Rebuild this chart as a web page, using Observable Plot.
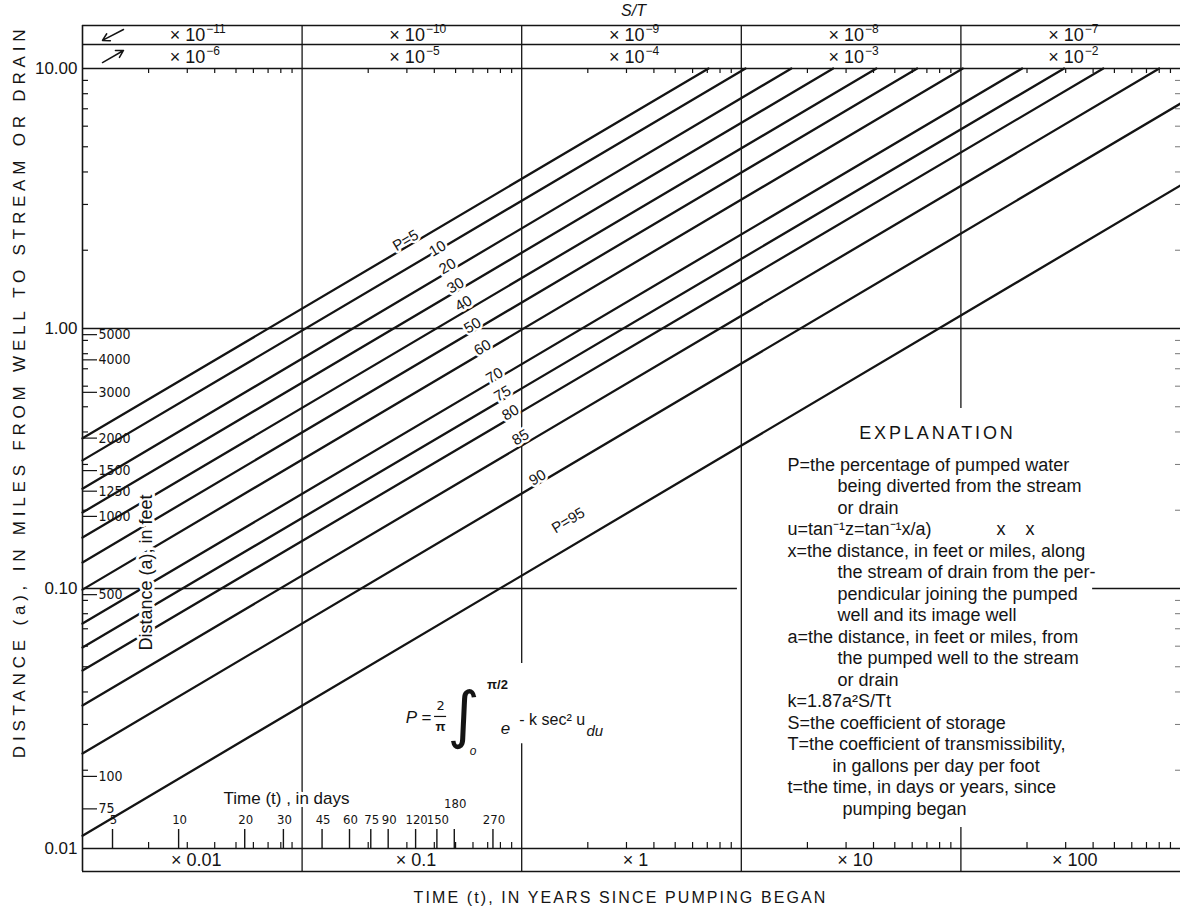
<!DOCTYPE html>
<html>
<head>
<meta charset="utf-8">
<script src="https://cdn.jsdelivr.net/npm/d3@7"></script>
<script src="https://cdn.jsdelivr.net/npm/@observablehq/plot@0.6"></script>
<style>
  html, body { margin: 0; padding: 0; background: #fff; }
</style>
</head>
<body>
<div id="chart"></div>
<script>
// ---- Curves: percentage P (start at left edge, end at top / right edge)
const pValues   = [5, 10, 20, 30, 40, 50, 60, 70, 75, 80, 85, 90, 95];
const pLabels   = ["P=5", "10", "20", "30", "40", "50", "60", "70", "75", "80", "85", "90", "P=95"];
const startYears = [0.01, 0.01, 0.01, 0.01, 0.01, 0.01, 0.01, 0.01, 0.01, 0.01, 0.01, 0.01, 0.01];
const startMiles = [0.378, 0.311, 0.242, 0.196, 0.157, 0.126, 0.099, 0.0733, 0.0593, 0.0484, 0.0355, 0.0232, 0.0112];
const endYears   = [7.09, 10.45, 16.9, 26.2, 41.2, 63.2, 102, 190, 295, 445, 800, 1000, 1000];
const endMiles   = [10, 10, 10, 10, 10, 10, 10, 10, 10, 10, 10, 7.33, 3.55];
const labelYears = [0.296, 0.414, 0.459, 0.500, 0.543, 0.597, 0.663, 0.752, 0.818, 0.889, 0.987, 1.18, 1.63];
const labelMiles = [2.18, 2.03, 1.732, 1.463, 1.248, 1.027, 0.845, 0.659, 0.562, 0.475, 0.381, 0.267, 0.1826];

// ---- Axes
const yTicks = [0.01, 0.1, 1, 10];
const yTickLabels = ["0.01", "0.10", "1.00", "10.00"];
const decadeStarts = [0.01, 0.1, 1, 10, 100];
const decadeLines = [0.1, 1, 10, 100];
const minorSteps = [2, 3, 4, 5, 6, 7, 8, 9];
const milesDecades = [0.01, 0.1, 1];
const yearBandLabels = ["× 0.01", "× 0.1", "× 1", "× 10", "× 100"];
const stBase = "× 10";
const stUpperExp = ["−11", "−10", "−9", "−8", "−7"];
const stLowerExp = ["−6", "−5", "−4", "−3", "−2"];
const feetTicks = [5000, 4000, 3000, 2000, 1500, 1250, 1000, 500, 100, 75];
const feetPerMile = 5280;
const dayTicks = [5, 10, 20, 30, 45, 60, 75, 90, 120, 150, 180, 270];
const dayRaised = [180];
const daysPerYear = 365;

// ---- Grid segments (gaps where the reference leaves room for text)
const hGrid = [
  {a: 1, t1: 0.01, t2: 1000},
  {a: 0.1, t1: 0.01, t2: 9.6},
  {a: 0.1, t1: 398, t2: 1000}
];
const vGrid = [
  {t: 0.1, a1: 10, a2: 0.01},
  {t: 1, a1: 10, a2: 0.0515},
  {t: 1, a1: 0.0253, a2: 0.01},
  {t: 10, a1: 10, a2: 0.01},
  {t: 100, a1: 10, a2: 0.492},
  {t: 100, a1: 0.01205, a2: 0.01}
];

// ---- S/T arrows in the top band (years, miles-scale positions)
const bandArrows = [
  {x1: 0.01537, y1: 14.13, x2: 0.01233, y2: 12.82},
  {x1: 0.01233, y1: 10.54, x2: 0.01537, y2: 11.73}
];

// ---- Explanation text
const NB = (n) => "\u00a0".repeat(n);
const explanationTitle = "EXPLANATION";
const explanationLines = [
  "P=the percentage of pumped water",
  NB(10) + "being diverted from the stream",
  NB(10) + "or drain",
  "u=tan⁻¹z=tan⁻¹x/a)" + NB(13) + "x" + NB(4) + "x",
  "x=the distance, in feet or miles, along",
  NB(10) + "the stream of drain from the per-",
  NB(10) + "pendicular joining the pumped",
  NB(10) + "well and its image well",
  "a=the distance, in feet or miles, from",
  NB(10) + "the pumped well to the stream",
  NB(10) + "or drain",
  "k=1.87a²S/Tt",
  "S=the coefficient of storage",
  "T=the coefficient of transmissibility,",
  NB(9) + "in gallons per day per foot",
  "t=the time, in days or years, since",
  NB(11) + "pumping began"
];
const explanationAnchor = {t: 16.23, a: 0.3247};
const explanationTitleAnchor = {t: 78.2, a: 0.3946};

// ---- Formula pieces (positions in years / miles)
const formulaMid = [
  {text: "P =", t: 0.339, a: 0.0319, size: 17, kind: "italic"},
  {text: "2", t: 0.427, a: 0.0355, size: 13, kind: "normal"},
  {text: "π", t: 0.427, a: 0.0293, size: 13, kind: "bold"},
  {text: "∫", t: 0.543, a: 0.0322, size: 62, kind: "normal"},
  {text: "o", t: 0.60, a: 0.0236, size: 12, kind: "italic"},
  {text: "π/2", t: 0.776, a: 0.0427, size: 13, kind: "bold"},
  {text: "e", t: 0.8435, a: 0.0289, size: 17, kind: "italic"}
];
const formulaStart = [
  {text: "- k sec² u", t: 0.975, a: 0.0313, size: 16, kind: "normal"},
  {text: "du", t: 1.973, a: 0.0282, size: 15, kind: "italic"}
];
const fractionBar = [{a: 0.0322, t1: 0.401, t2: 0.455}];

// ---- Other labels
const yTitle = "DISTANCE (a), IN MILES FROM WELL TO STREAM OR DRAIN";
const yTitlePos = {t: 0.00517, a: 0.5725};
const xTitle = "TIME (t), IN YEARS SINCE PUMPING BEGAN";
const xTitlePos = {t: 2.818, a: 0.00648};
const daysTitle = "Time (t) , in days";
const daysTitlePos = {t: 0.0849, a: 0.01557};
const feetTitle = "Distance (a), in feet";
const feetTitlePos = {t: 0.01956, a: 0.1152};
const stTitle = "S/T";
const stTitlePos = {t: 3.23, a: 10};

// ---- Build tables
const lineData = pValues.flatMap((p, i) => [
  {P: p, t: startYears[i], a: startMiles[i]},
  {P: p, t: endYears[i], a: endMiles[i]}
]);
const labelData = pValues.map((p, i) => ({P: p, t: labelYears[i], a: labelMiles[i], label: pLabels[i]}));
const minorYears = decadeStarts.flatMap((d) => minorSteps.map((k) => d * k));
const minorMiles = milesDecades.flatMap((d) => minorSteps.map((k) => d * k));
const bands = decadeStarts.map((d, i) => ({t: d * Math.sqrt(10), yr: yearBandLabels[i], up: stUpperExp[i], low: stLowerExp[i]}));
const dayData = dayTicks.map((d) => ({d, t: d / daysPerYear, raised: dayRaised.includes(d)}));
const feetData = feetTicks.map((f) => ({f, a: f / feetPerMile}));

const INK = "#141414";
const NARROW = "'Liberation Sans Narrow', 'Arial Narrow', 'DejaVu Sans Condensed', sans-serif";
const SANS = "'Liberation Sans', Arial, Helvetica, sans-serif";
const SYM = "'DejaVu Sans', sans-serif";

const plot = Plot.plot({
  width: 1180,
  height: 911,
  marginLeft: 82,
  marginRight: 0,
  marginTop: 68,
  marginBottom: 63,
  x: {type: "log", domain: [0.01, 1000], axis: null},
  y: {type: "log", domain: [0.01, 10], axis: null},
  style: {fontFamily: SANS, color: INK, background: "#fff", overflow: "visible"},
  marks: [
    // frame + bands
    Plot.ruleY([10, 0.01], {stroke: INK, strokeWidth: 1.5}),
    Plot.ruleY([10], {dy: -24, stroke: INK, strokeWidth: 1.4}),
    Plot.ruleY([10], {dy: -43, stroke: INK, strokeWidth: 1.5}),
    Plot.ruleY([0.01], {dy: 23, stroke: INK, strokeWidth: 1.5}),
    Plot.ruleX([0.01], {y1: 10, y2: 0.01, insetTop: -43, insetBottom: -23, stroke: INK, strokeWidth: 1.6}),
    Plot.ruleX(decadeLines, {y1: 10, y2: 10, insetTop: -43, stroke: INK, strokeWidth: 1.3}),
    Plot.ruleX(decadeLines, {y1: 0.01, y2: 0.01, insetBottom: -23, stroke: INK, strokeWidth: 1.3}),
    // grid
    Plot.ruleY(hGrid, {y: "a", x1: "t1", x2: "t2", stroke: INK, strokeWidth: 1.3}),
    Plot.ruleX(vGrid, {x: "t", y1: "a1", y2: "a2", stroke: INK, strokeWidth: 1.3}),
    // ticks
    Plot.ruleX(minorYears, {y1: 10, y2: 10, insetBottom: -5, stroke: INK, strokeWidth: 1.2}),
    Plot.ruleX(minorYears, {y1: 0.01, y2: 0.01, insetTop: -6, stroke: INK, strokeWidth: 1.2}),
    Plot.ruleX(dayData, {x: "t", y1: 0.01, y2: 0.01, insetTop: -19, stroke: INK, strokeWidth: 1.4}),
    Plot.ruleY(minorMiles, {x1: 0.01, x2: 0.01, insetRight: -6, stroke: INK, strokeWidth: 1.2}),
    Plot.ruleY(minorMiles, {x1: 1000, x2: 1000, insetLeft: -5, stroke: "#777", strokeWidth: 1}),
    Plot.ruleY(feetData, {y: "a", x1: 0.01, x2: 0.01, insetRight: -15, stroke: INK, strokeWidth: 1.2}),
    // curves
    Plot.line(lineData, {x: "t", y: "a", z: "P", stroke: INK, strokeWidth: 2.3}),
    Plot.text(labelData, {x: "t", y: "a", text: "label", rotate: -30.6, fontSize: 15, fill: INK, stroke: "#fff", strokeWidth: 5}),
    // y tick labels
    Plot.text(yTicks, {x: 0.01, y: (d) => d, text: (d, i) => yTickLabels[i], textAnchor: "end", dx: -5, fontSize: 17, fill: INK}),
    // feet labels
    Plot.text(feetData, {x: 0.01, y: "a", text: (d) => String(d.f), textAnchor: "start", dx: 16, fontSize: 14, fontFamily: NARROW, fill: INK}),
    // day labels
    Plot.text(dayData.filter((d) => !d.raised), {x: "t", y: 0.01, dy: -29, dx: 1, text: (d) => String(d.d), fontSize: 13, fontFamily: NARROW, fill: INK}),
    Plot.text(dayData.filter((d) => d.raised), {x: "t", y: 0.01, dy: -45, dx: 1, text: (d) => String(d.d), fontSize: 13, fontFamily: NARROW, fill: INK}),
    // band labels: S/T multipliers (base + raised exponent) and year multipliers
    Plot.text(bands, {x: "t", y: 10, dy: -33, dx: 13, text: () => stBase, textAnchor: "end", fontSize: 18, fill: INK}),
    Plot.text(bands, {x: "t", y: 10, dy: -39, dx: 14, text: "up", textAnchor: "start", fontSize: 12, fill: INK}),
    Plot.text(bands, {x: "t", y: 10, dy: -11, dx: 13, text: () => stBase, textAnchor: "end", fontSize: 18, fill: INK}),
    Plot.text(bands, {x: "t", y: 10, dy: -17, dx: 14, text: "low", textAnchor: "start", fontSize: 12, fill: INK}),
    Plot.text(bands, {x: "t", y: 0.01, dy: 12, dx: 4, text: "yr", fontSize: 18, fill: INK}),
    Plot.arrow(bandArrows, {x1: "x1", y1: "y1", x2: "x2", y2: "y2", stroke: INK, strokeWidth: 1.5, headLength: 9}),
    Plot.text([stTitle], {x: stTitlePos.t, y: stTitlePos.a, dy: -58, text: (d) => d, fontSize: 16, fontStyle: "italic", fill: INK}),
    // axis titles
    Plot.text([yTitle], {x: yTitlePos.t, y: yTitlePos.a, text: (d) => d, rotate: -90, fontSize: 17, fill: INK}),
    Plot.text([xTitle], {x: xTitlePos.t, y: xTitlePos.a, text: (d) => d, fontSize: 16, fill: INK}),
    Plot.text([daysTitle], {x: daysTitlePos.t, y: daysTitlePos.a, text: (d) => d, fontSize: 17, fill: INK, stroke: "#fff", strokeWidth: 6}),
    Plot.text([feetTitle], {x: feetTitlePos.t, y: feetTitlePos.a, text: (d) => d, rotate: -90, fontSize: 18, fill: INK, stroke: "#fff", strokeWidth: 6}),
    // formula
    Plot.ruleY(fractionBar, {y: "a", x1: "t1", x2: "t2", stroke: INK, strokeWidth: 1.2}),
    Plot.text(formulaMid.filter((d) => d.kind === "normal"), {x: "t", y: "a", text: "text", fontSize: "size", fill: INK, fontFamily: SYM}),
    Plot.text(formulaMid.filter((d) => d.kind === "italic"), {x: "t", y: "a", text: "text", fontSize: "size", fill: INK, fontStyle: "italic"}),
    Plot.text(formulaMid.filter((d) => d.kind === "bold"), {x: "t", y: "a", text: "text", fontSize: "size", fill: INK, fontWeight: "bold"}),
    Plot.text(formulaStart.filter((d) => d.kind === "normal"), {x: "t", y: "a", text: "text", fontSize: "size", textAnchor: "start", fill: INK}),
    Plot.text(formulaStart.filter((d) => d.kind === "italic"), {x: "t", y: "a", text: "text", fontSize: "size", textAnchor: "start", fill: INK, fontStyle: "italic"}),
    // explanation
    Plot.text([explanationTitle], {x: explanationTitleAnchor.t, y: explanationTitleAnchor.a, text: (d) => d, fontSize: 18, fill: INK}),
    Plot.text([explanationLines.join("\n")], {x: explanationAnchor.t, y: explanationAnchor.a, text: (d) => d, textAnchor: "start", lineAnchor: "top", lineHeight: 1.194, fontSize: 18, fill: INK})
  ]
});

// letter spacing for the spaced capital titles
const spacing = new Map([[yTitle, "4.8px"], [xTitle, "2.1px"], [explanationTitle, "2.9px"]]);
d3.select(plot).selectAll("text").each(function () {
  const s = spacing.get(this.textContent);
  if (s) this.style.letterSpacing = s;
});

document.getElementById("chart").appendChild(plot);
</script>
</body>
</html>
